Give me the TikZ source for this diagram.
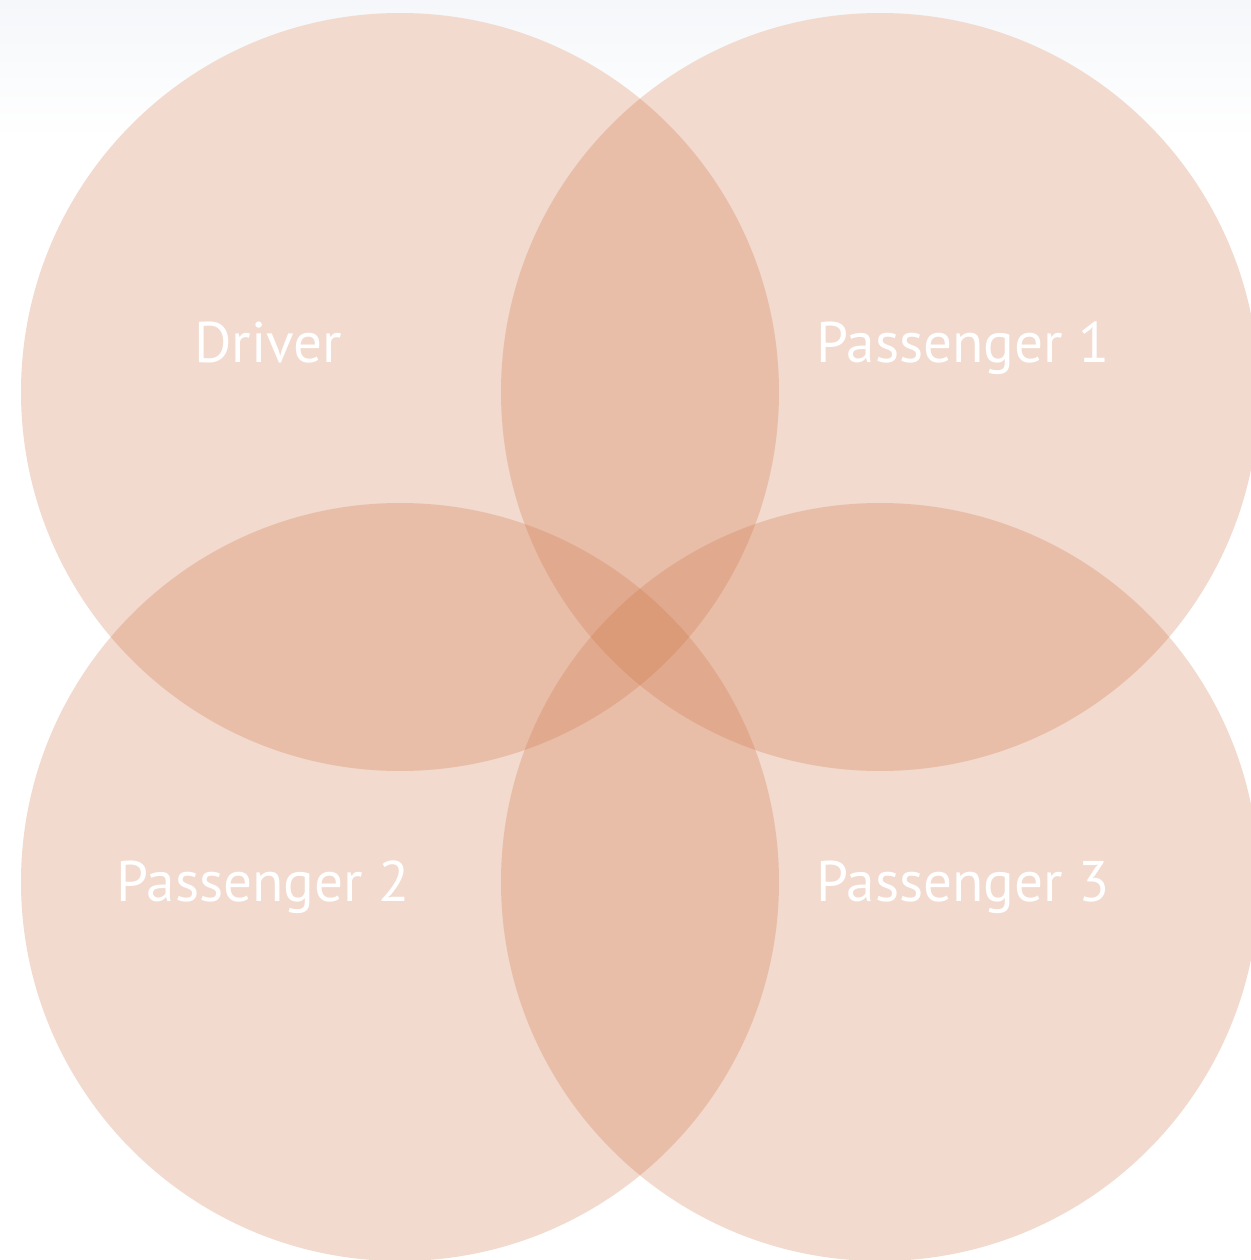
\documentclass[tikz,border=0pt]{standalone}
\usepackage{fontspec}
\setmainfont{PT Sans}
\definecolor{setfill}{RGB}{205,110,60}
\definecolor{topshade}{RGB}{245,247,250}
\tikzset{
    set/.style={circle, fill=setfill, fill opacity=0.25, minimum size=7.58cm, inner sep=0pt},
    setlabel/.style={text=white, anchor=base, font=\fontsize{16.3}{20}\selectfont}
}
\begin{document}
\begin{tikzpicture}
    \useasboundingbox (0,0) rectangle (12.51,12.60);
    \shade[top color=topshade, bottom color=white] (0,11.2) rectangle (12.51,12.60);
    % white under the sets, so the shade does not show through
    \foreach \x/\y in {4.00/8.68, 8.80/8.68, 4.00/3.78, 8.80/3.78}
        \fill[white] (\x,\y) circle (3.79);

    \node[set] (driver) at (4.00,8.68) {};
    \node[set] (pass1) at (8.80,8.68) {};
    \node[set] (pass2) at (4.00,3.78) {};
    \node[set] (pass3) at (8.80,3.78) {};

    \node[setlabel] (driverlabel) at (2.68,8.98) {Driver};
    \node[setlabel] (pass1label) at (9.63,8.98) {Passenger 1};
    \node[setlabel] (pass2label) at (2.63,3.58) {Passenger 2};
    \node[setlabel] (pass3label) at (9.63,3.58) {Passenger 3};
\end{tikzpicture}
\end{document}
